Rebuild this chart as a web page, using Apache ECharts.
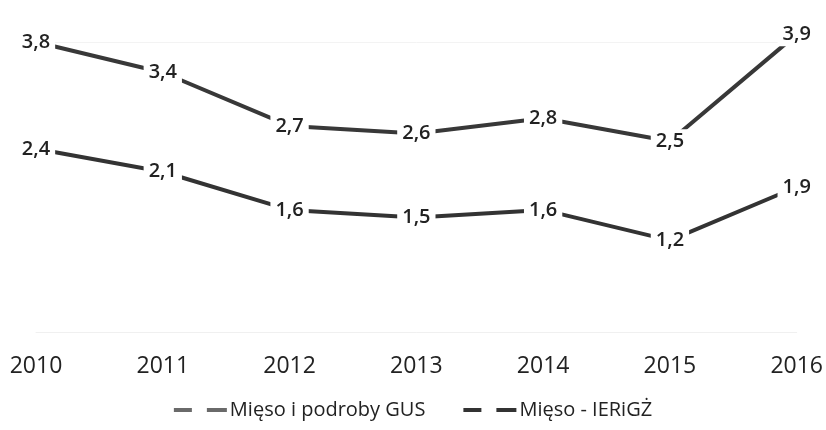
<!DOCTYPE html>
<html>
<head>
<meta charset="utf-8">
<script src="https://cdn.jsdelivr.net/npm/echarts@6/dist/echarts.min.js"></script>
<style>
  html, body { margin: 0; padding: 0; background: #fff; }
  #chart { width: 826px; height: 430px; }
</style>
</head>
<body>
<div id="chart"></div>
<script>
// Years on the category axis
const years = ['2010', '2011', '2012', '2013', '2014', '2015', '2016'];

// Consumption values per series
const gusMeatOffal = [3.8, 3.4, 2.7, 2.6, 2.8, 2.5, 3.9];
const ieriMeat = [2.4, 2.1, 1.6, 1.5, 1.6, 1.2, 1.9];

const seriesNames = ['Mięso i podroby GUS', 'Mięso - IERiGŻ'];

const FONT = '"Open Sans", "Noto Sans", sans-serif';
// Legend key: two short dashes
const dashIcon = 'path://M0,0 L18,0 L18,4 L0,4 Z M33,0 L53,0 L53,4 L33,4 Z';

function makeSeries(name, data, color) {
  return {
    name: name,
    type: 'line',
    data: data,
    clip: false,
    symbol: 'circle',
    symbolSize: 0,
    showSymbol: true,
    lineStyle: { color: color, width: 4 },
    itemStyle: { color: color },
    label: {
      show: true,
      position: 'inside',
      formatter: p => p.value.toFixed(1).replace('.', ','),
      color: '#222',
      fontFamily: FONT,
      fontSize: 20,
      fontWeight: 600,
      backgroundColor: '#fff',
      padding: [2, 5]
    },
    emphasis: { disabled: true }
  };
}

const chart = echarts.init(document.getElementById('chart'), null, { renderer: 'canvas' });
chart.setOption({
  animation: false,
  backgroundColor: '#fff',
  grid: { left: 36, right: 26, top: 42, bottom: 98 },
  legend: {
    bottom: 5,
    left: 'center',
    itemGap: 38,
    itemWidth: 53,
    itemHeight: 4,
    data: [
      { name: seriesNames[0], icon: dashIcon, itemStyle: { color: '#6a6a6a' } },
      { name: seriesNames[1], icon: dashIcon, itemStyle: { color: '#333' } }
    ],
    textStyle: { fontFamily: FONT, fontSize: 20, color: '#222', padding: [0, 0, 0, -2] }
  },
  xAxis: {
    type: 'category',
    data: years,
    boundaryGap: false,
    axisLine: { show: true, lineStyle: { color: '#f0f0f0', width: 1 } },
    axisTick: { show: false },
    axisLabel: {
      margin: 23,
      color: '#222',
      fontFamily: FONT,
      fontSize: 23
    }
  },
  yAxis: {
    type: 'value',
    min: 0,
    max: 3.8,
    interval: 3.8,
    axisLabel: { show: false },
    axisLine: { show: false },
    axisTick: { show: false },
    splitLine: { show: true, lineStyle: { color: '#f3f3f3', width: 1 } }
  },
  series: [
    makeSeries(seriesNames[0], gusMeatOffal, '#383838'),
    makeSeries(seriesNames[1], ieriMeat, '#333333')
  ]
});
</script>
</body>
</html>
